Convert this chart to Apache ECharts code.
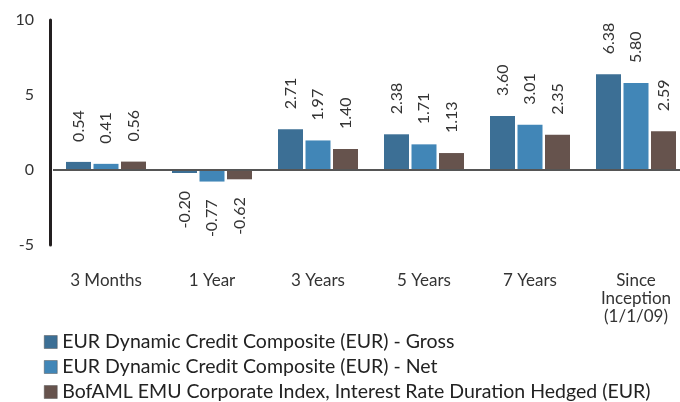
<!DOCTYPE html>
<html><head><meta charset="utf-8">
<script src="https://cdn.jsdelivr.net/npm/echarts@6/dist/echarts.min.js"></script>
<style>html,body{margin:0;padding:0;background:#fff}#c{width:680px;height:402px}</style>
</head><body><div id="c"></div>
<script>
const categories = ['3 Months', '1 Year', '3 Years', '5 Years', '7 Years', 'Since\nInception\n(1/1/09)'];
const seriesNames = [
  'EUR Dynamic Credit Composite (EUR) - Gross',
  'EUR Dynamic Credit Composite (EUR) - Net',
  'BofAML EMU Corporate Index, Interest Rate Duration Hedged (EUR)'
];
const gross = [0.54, -0.20, 2.71, 2.38, 3.60, 6.38];
const net = [0.41, -0.77, 1.97, 1.71, 3.01, 5.80];
const benchmark = [0.56, -0.62, 1.40, 1.13, 2.35, 2.59];
const yTicks = [-5, 0, 5, 10];
const colors = ['#3c6f95', '#4186b7', '#66534d'];
const FONT = 'Lato';

function mkData(arr) {
  return arr.map(v => ({
    value: v,
    label: v >= 0
      ? { position: 'top', align: 'left', distance: 20 }
      : { position: 'bottom', align: 'right', distance: 18 }
  }));
}
const all = [gross, net, benchmark];
const chart = echarts.init(document.getElementById('c'), null, { renderer: 'canvas' });
chart.setOption({
  animation: false,
  textStyle: { fontFamily: FONT },
  grid: { left: 53, top: 20, width: 636, height: 225, containLabel: false, outerBoundsMode: 'none' },
  legend: {
    orient: 'vertical', left: 39, top: 327, height: 120, itemWidth: 13, itemHeight: 13, itemGap: 5,
    icon: 'rect',
    textStyle: { fontFamily: FONT, fontSize: 19.5, color: '#222' },
    itemStyle: { borderColor: '#555', borderWidth: 0.5 },
    data: seriesNames
  },
  xAxis: {
    type: 'category', data: categories,
    axisLine: { show: false }, axisTick: { show: false },
    axisLabel: { margin: 27, fontSize: 17, color: '#333', fontFamily: FONT, lineHeight: 18, interval: 0 }
  },
  yAxis: {
    type: 'value', min: -5, max: 10, interval: 5, offset: 3,
    splitLine: { show: false },
    axisLine: { show: true, lineStyle: { color: '#231f20', width: 3 } },
    axisTick: { show: false },
    axisLabel: { margin: 16, fontSize: 16, color: '#333', fontFamily: FONT }
  },
  series: all.map((arr, i) => ({
    name: seriesNames[i], type: 'bar', data: mkData(arr),
    barWidth: 25, barGap: '10%',
    itemStyle: { color: colors[i] },
    label: {
      show: true, rotate: 90, verticalAlign: 'middle', fontSize: 16, color: '#333',
      fontFamily: FONT, formatter: p => p.value.toFixed(2)
    },
    markLine: i === 0 ? {
      silent: true, symbol: 'none', animation: false,
      label: { show: false },
      lineStyle: { color: '#555', width: 2, type: 'solid' },
      data: [{ yAxis: 0 }]
    } : undefined
  }))
});
</script></body></html>
